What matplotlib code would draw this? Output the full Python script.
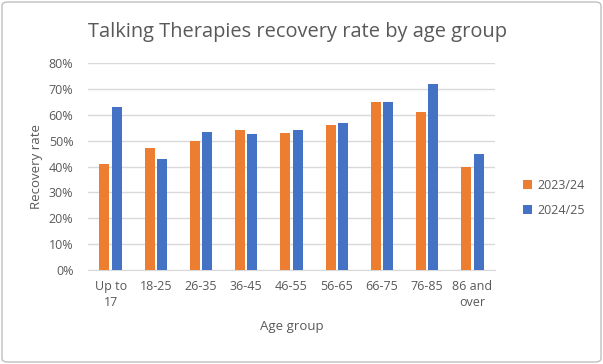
import matplotlib
matplotlib.use("Agg")
import matplotlib.pyplot as plt
from matplotlib.patches import FancyBboxPatch
import numpy as np

categories = ["Up to\n17", "18-25", "26-35", "36-45", "46-55", "56-65", "66-75", "76-85", "86 and\nover"]
series_2324 = [41, 47, 50, 54, 53, 56, 65, 61, 40]
series_2425 = [63, 43, 53.5, 52.5, 54, 57, 65, 72, 45]
y_ticks = [0, 10, 20, 30, 40, 50, 60, 70, 80]

plt.rcParams['font.family'] = ['Open Sans', 'DejaVu Sans']

W, H = 603, 364
fig = plt.figure(figsize=(W / 100, H / 100), dpi=100)
ax = fig.add_axes([88 / W, 1 - 270 / H, (495 - 88) / W, (270 - 63) / H])

x = np.arange(len(categories))
bw = 0.22
off = 0.137
ax.bar(x - off, series_2324, bw, color="#ED7D31", label="2023/24", zorder=3)
ax.bar(x + off, series_2425, bw, color="#4472C4", label="2024/25", zorder=3)

ax.set_xlim(-0.5, len(categories) - 0.5)
ax.set_ylim(0, 80)
ax.set_yticks(y_ticks)
ax.set_yticklabels([f"{t}%" for t in y_ticks])
ax.set_xticks(x)
ax.set_xticklabels(categories, linespacing=1.3)
ax.grid(axis="y", color="#D9D9D9", linewidth=1, zorder=0)
for s in ["top", "right", "left"]:
    ax.spines[s].set_visible(False)
ax.spines["bottom"].set_color("#D9D9D9")
ax.tick_params(axis="both", length=0, labelsize=9, labelcolor="#595959")
ax.tick_params(axis="x", pad=7)
ax.tick_params(axis="y", pad=10.5)

ax.set_ylabel("Recovery rate", fontsize=9.5, color="#595959", labelpad=4)
ax.set_xlabel("Age group", fontsize=9.5, color="#595959", labelpad=8)

fig.text(297.5 / W, 1 - 32 / H, "Talking Therapies recovery rate by age group",
         ha="center", va="center", fontsize=14.4, color="#595959")

leg = fig.legend(loc="center left", bbox_to_anchor=(512 / W, 1 - 198 / H),
                 frameon=False, fontsize=9, labelcolor="#595959",
                 handlelength=0.7, handleheight=0.7, handletextpad=0.4,
                 labelspacing=1.0)

border = FancyBboxPatch((2 / W, 2 / H), (W - 4) / W, (H - 4) / H,
                        boxstyle="round,pad=0,rounding_size=0.01",
                        transform=fig.transFigure, fill=False,
                        edgecolor="#BFBFBF", linewidth=1)
fig.patches.append(border)

fig.savefig("out.png", dpi=100)
